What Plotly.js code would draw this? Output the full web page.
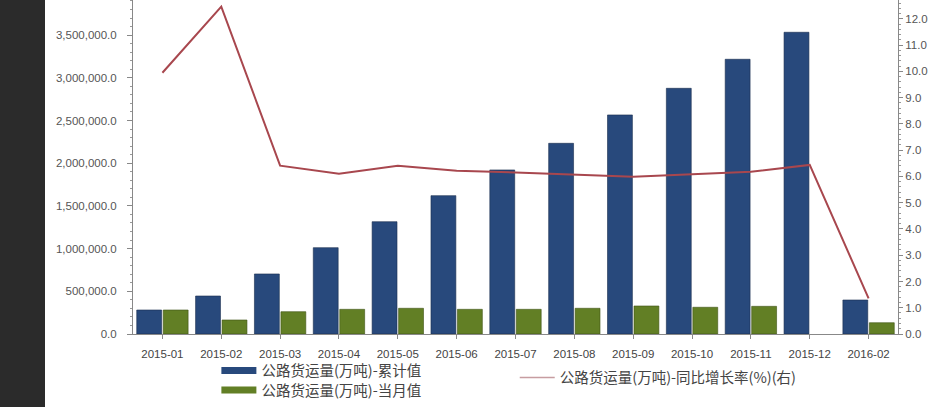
<!DOCTYPE html>
<html>
<head>
<meta charset="utf-8">
<script src="https://cdn.plot.ly/plotly-3.0.1.min.js"></script>
<style>
  html, body { margin: 0; padding: 0; background: #2b2b2b; }
  #chart { position: absolute; left: 45px; top: 0; width: 896px; height: 407px; background: #fff; }
</style>
</head>
<body>
<div id="chart"></div>
<script>
// 公路货运量 (万吨)
const months = ['2015-01','2015-02','2015-03','2015-04','2015-05','2015-06','2015-07',
                '2015-08','2015-09','2015-10','2015-11','2015-12','2016-02'];
const cumulative = [281000, 445000, 703000, 1011000, 1315000, 1620000, 1921000,
                    2233000, 2565000, 2877000, 3217000, 3533000, 398000];
const monthly = [281000, 164000, 261000, 289000, 301000, 289000, 289000,
                 301000, 328000, 313000, 324000, null, 132000];
const growth = [9.95, 12.47, 6.41, 6.10, 6.41, 6.22, 6.15, 6.08, 5.99, 6.08, 6.18, 6.44, 1.36];

const nameCum = '公路货运量(万吨)-累计值';
const nameMon = '公路货运量(万吨)-当月值';
const nameGrowth = '公路货运量(万吨)-同比增长率(%)(右)';

const FONT = 'Arial, "Liberation Sans", "Noto Sans CJK SC", sans-serif';
const LEGEND_FONT = '"Noto Sans CJK SC", "Liberation Sans", sans-serif';
const BLUE = '#28497c';
const GREEN = '#627f25';
const RED = '#a8474e';
const noValues = months.map(() => null);

const traces = [
  { x: months, y: cumulative, type: 'bar', name: nameCum, showlegend: false,
    marker: { color: BLUE, line: { color: '#1a2d4d', width: 0.6 } } },
  { x: months, y: monthly, type: 'bar', name: nameMon, showlegend: false,
    marker: { color: GREEN, line: { color: '#3e5214', width: 0.6 } } },
  { x: months, y: growth, type: 'scatter', mode: 'lines', name: nameGrowth, yaxis: 'y2',
    showlegend: false, line: { color: RED, width: 2 } },
  // legend swatches, drawn like the original (wide bars, thin pale line)
  { x: months, y: noValues, type: 'scatter', mode: 'lines', name: nameCum,
    legend: 'legend', line: { color: BLUE, width: 7 } },
  { x: months, y: noValues, type: 'scatter', mode: 'lines', name: nameMon,
    legend: 'legend3', line: { color: GREEN, width: 7 } },
  { x: months, y: noValues, type: 'scatter', mode: 'lines', name: nameGrowth, yaxis: 'y2',
    legend: 'legend2', line: { color: '#c79da1', width: 1.5 } }
];

function legendAt(x, y) {
  return {
    x: x, y: y, xanchor: 'left', yanchor: 'middle', orientation: 'v',
    bgcolor: 'rgba(0,0,0,0)', font: { family: LEGEND_FONT, size: 14.5, color: '#444' },
    itemwidth: 35
  };
}

const layout = {
  width: 896, height: 407,
  margin: { l: 88, r: 43, t: 0, b: 73, autoexpand: false },
  paper_bgcolor: '#fff', plot_bgcolor: '#fff',
  font: { family: FONT, size: 11.5, color: '#555' },
  barmode: 'group', bargap: 0.1, bargroupgap: 0.06,
  xaxis: {
    type: 'category', range: [-0.5, 12.5],
    showline: true, linecolor: '#888', linewidth: 1,
    ticks: 'outside', ticklen: 4, tickcolor: '#888',
    tickfont: { size: 11.5, color: '#444' }, showgrid: false, zeroline: false,
    ticklabelstandoff: 5
  },
  yaxis: {
    range: [0, 3911000], dtick: 500000, tickformat: ',.1f',
    showline: true, linecolor: '#888', linewidth: 1,
    ticks: 'outside', ticklen: 5, tickcolor: '#888',
    minor: { dtick: 100000, ticks: 'outside', ticklen: 2, tickcolor: '#999' },
    tickfont: { size: 11.5, color: '#555' }, showgrid: false, zeroline: false,
    ticklabelstandoff: 8
  },
  yaxis2: {
    overlaying: 'y', side: 'right',
    range: [0, 12.72], dtick: 1, tickformat: '.1f',
    showline: true, linecolor: '#888', linewidth: 1,
    ticks: 'outside', ticklen: 4, tickcolor: '#888',
    minor: { dtick: 0.2, ticks: 'outside', ticklen: 2, tickcolor: '#999' },
    tickfont: { size: 11.5, color: '#555' }, showgrid: false, zeroline: false
  },
  legend: legendAt(0.109, -0.1093),
  legend3: legendAt(0.109, -0.1677),
  legend2: legendAt(0.499, -0.1302),
  showlegend: true
};

Plotly.newPlot('chart', traces, layout, { staticPlot: true });
</script>
</body>
</html>
